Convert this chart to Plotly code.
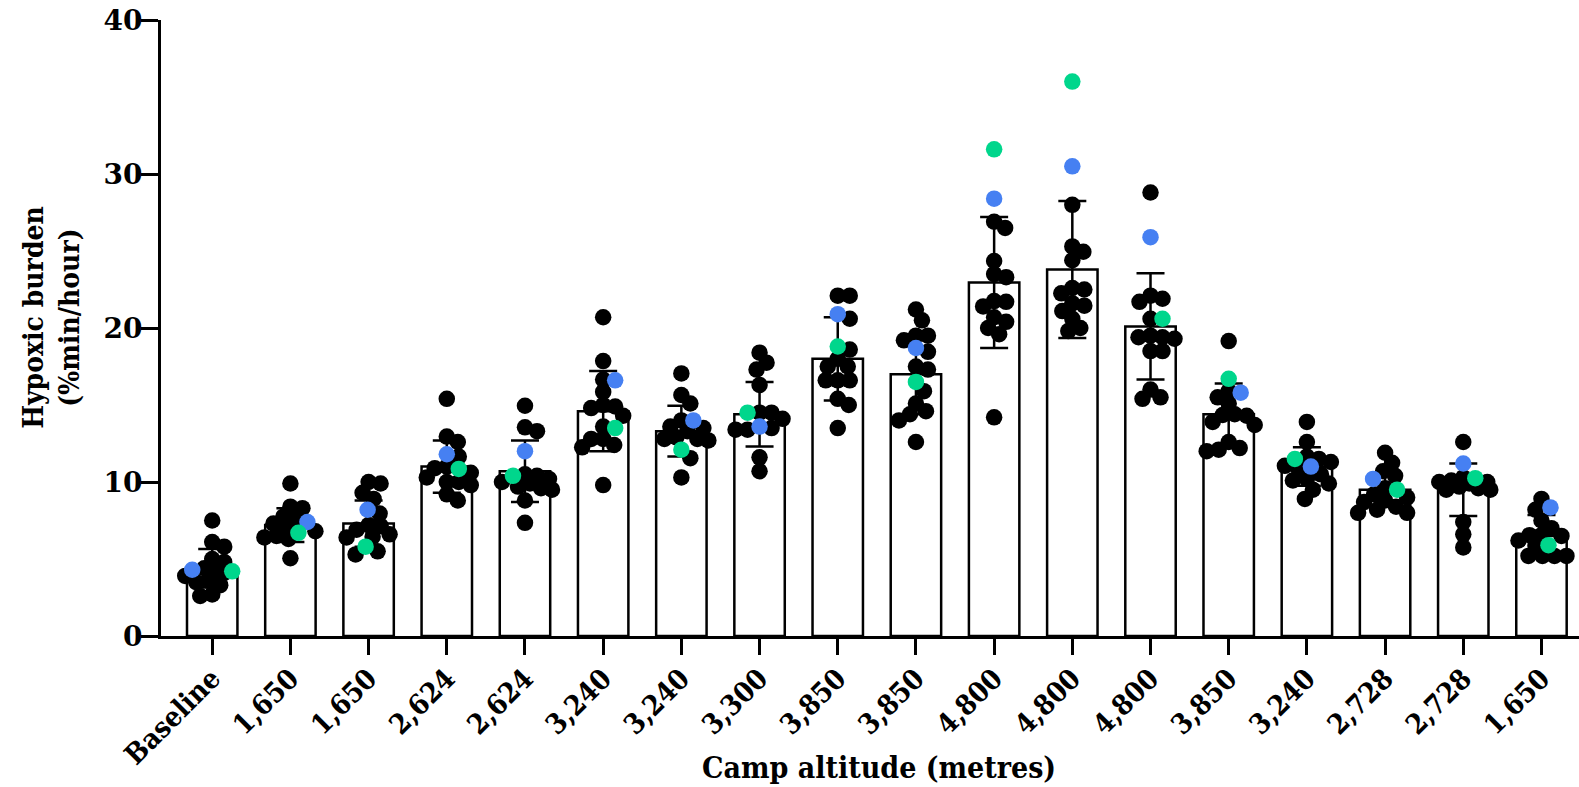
import numpy as np
import plotly.graph_objects as go

# Camp altitudes (x categories)
categories = ["Baseline", "1,650", "1,650", "2,624", "2,624", "3,240", "3,240", "3,300",
              "3,850", "3,850", "4,800", "4,800", "4,800", "3,850", "3,240", "2,728",
              "2,728", "1,650"]

# Group mean and SD of hypoxic burden (%min/hour)
means = [4.4, 7.2, 7.3, 11.0, 10.7, 14.6, 13.3, 14.4, 18.0, 17.0,
         22.95, 23.8, 20.1, 14.4, 11.0, 9.5, 9.5, 6.5]
sds = [1.25, 1.1, 1.5, 1.7, 2.0, 2.6, 1.65, 2.1, 2.7, 2.6,
       4.25, 4.45, 3.45, 2.0, 1.25, 1.1, 1.7, 1.35]

# Individual participants
black_pts = [
    [7.5, 6.1, 5.8, 5.0, 4.8, 4.4, 4.2, 4.1, 3.9, 3.6, 3.5, 3.3, 2.7, 2.6],
    [9.9, 8.4, 8.3, 7.75, 7.5, 7.3, 7.0, 6.8, 6.5, 6.4, 6.3, 5.05],
    [10.0, 9.9, 9.3, 8.9, 7.95, 7.2, 7.15, 6.9, 6.6, 6.45, 6.4, 5.5, 5.3],
    [15.4, 12.95, 12.6, 11.65, 11.0, 10.9, 10.6, 10.3, 10.0, 10.0, 9.8, 9.2, 8.8],
    [14.95, 13.55, 13.3, 10.5, 10.4, 10.2, 10.0, 9.9, 9.7, 9.6, 9.5, 8.8, 7.35],
    [20.7, 17.85, 16.65, 15.85, 15.0, 14.9, 14.8, 14.3, 13.6, 12.8, 12.8, 12.4, 12.25, 9.8],
    [17.05, 15.65, 15.1, 14.0, 13.6, 13.5, 13.3, 12.9, 12.8, 12.8, 12.7, 11.55, 10.3],
    [18.4, 17.75, 17.3, 16.3, 14.5, 14.5, 14.1, 13.5, 13.4, 13.4, 11.6, 10.7],
    [22.1, 22.1, 20.6, 18.6, 18.0, 17.5, 17.5, 16.6, 16.6, 16.6, 15.4, 15.0, 13.5],
    [21.2, 20.5, 19.5, 19.5, 19.2, 18.45, 17.5, 17.3, 15.9, 15.1, 14.6, 14.4, 14.0, 12.6],
    [26.9, 26.5, 24.35, 23.5, 23.3, 21.75, 21.7, 21.4, 20.7, 20.4, 20.0, 19.6, 14.2],
    [28.0, 25.3, 24.95, 24.4, 22.6, 22.5, 22.25, 21.6, 21.45, 21.1, 20.6, 20.0, 19.8],
    [28.8, 22.1, 21.9, 21.7, 20.6, 19.5, 19.4, 19.4, 19.3, 18.5, 18.5, 16.0, 15.5, 15.4],
    [19.15, 15.9, 15.5, 15.1, 14.4, 14.35, 14.3, 13.9, 13.7, 12.6, 12.2, 12.1, 12.0],
    [13.9, 12.6, 11.65, 11.5, 11.3, 11.05, 10.8, 10.5, 10.2, 10.1, 9.9, 9.5, 8.9],
    [11.9, 11.25, 10.7, 10.4, 9.6, 9.2, 9.0, 8.8, 8.7, 8.4, 8.2, 8.0, 8.0],
    [12.6, 10.3, 10.1, 10.0, 10.0, 9.9, 9.7, 9.6, 9.5, 9.5, 7.4, 6.6, 5.75],
    [8.9, 8.2, 7.5, 7.0, 6.55, 6.55, 6.5, 6.2, 5.85, 5.2, 5.2, 5.2, 5.2],
]
blue_pts = [4.3, 7.4, 8.2, 11.8, 12.0, 16.6, 14.0, 13.6, 20.9, 18.7,
            28.4, 30.5, 25.9, 15.8, 11.0, 10.2, 11.2, 8.35]
green_pts = [4.2, 6.7, 5.8, 10.85, 10.4, 13.5, 12.1, 14.5, 18.8, 16.5,
             31.6, 36.0, 20.6, 16.7, 11.5, 9.5, 10.25, 5.9]

BLACK = "#000000"
BLUE = "#4680F2"
GREEN = "#00D68C"

W, H = 1579, 787
M_L, M_R, M_T, M_B = 161, 0, 20, 151
X_RANGE = [-0.655, 17.48]
Y_RANGE = [0, 40]
px_per_cat = (W - M_L - M_R) / (X_RANGE[1] - X_RANGE[0])
px_per_unit = (H - M_T - M_B) / (Y_RANGE[1] - Y_RANGE[0])


def swarm_offsets(vals, min_dist=12.0, max_off=27):
    """Beeswarm layout: horizontal pixel offsets so dots do not pile up."""
    order = sorted(range(len(vals)), key=lambda i: -vals[i])
    placed = []
    offs = [0.0] * len(vals)
    cands = [0]
    for k in range(1, max_off + 1):
        cands += [k, -k]
    for i in order:
        y = vals[i] * px_per_unit
        chosen = None
        best, best_d = 0, -1.0
        for c in cands:
            d = min([np.hypot(c - px, y - py) for px, py in placed] or [1e9])
            if d >= min_dist:
                chosen = c
                break
            if d > best_d:
                best, best_d = c, d
        if chosen is None:
            chosen = best
        placed.append((chosen, y))
        offs[i] = chosen
    return offs


xs = {"k": [], "b": [], "g": []}
ys = {"k": [], "b": [], "g": []}
for gi in range(len(categories)):
    vals = list(black_pts[gi]) + [blue_pts[gi], green_pts[gi]]
    offs = swarm_offsets(vals)
    nk = len(black_pts[gi])
    for j, v in enumerate(vals):
        key = "k" if j < nk else ("b" if j == nk else "g")
        xs[key].append(gi + offs[j] / px_per_cat)
        ys[key].append(v)

x_idx = list(range(len(categories)))

fig = go.Figure()
fig.add_trace(go.Bar(
    x=x_idx, y=means, width=0.645,
    marker=dict(color="white", line=dict(color=BLACK, width=2.5)),
    error_y=dict(type="data", array=sds, visible=True, color=BLACK,
                 thickness=2.5, width=14),
    showlegend=False, hoverinfo="skip",
))
for key, col in (("k", BLACK), ("b", BLUE), ("g", GREEN)):
    fig.add_trace(go.Scatter(
        x=xs[key], y=ys[key], mode="markers",
        marker=dict(color=col, size=16.5, line=dict(width=0)),
        showlegend=False, cliponaxis=False,
    ))

TITLE_FONT = "DejaVu Serif Condensed, DejaVu Serif, serif"
TICK_FONT = "DejaVu Serif, serif"

fig.update_layout(
    width=W, height=H,
    margin=dict(l=M_L, r=M_R, t=M_T, b=M_B),
    plot_bgcolor="white", paper_bgcolor="white",
    xaxis=dict(
        range=X_RANGE, tickmode="array", tickvals=x_idx, ticktext=categories,
        tickangle=-45, showline=True, linecolor=BLACK, linewidth=3,
        ticks="outside", ticklen=16, tickwidth=3, tickcolor=BLACK,
        showgrid=False, zeroline=False, ticklabelstandoff=-4,
        tickfont=dict(family=TITLE_FONT, size=28, color=BLACK, weight="bold"),
    ),
    yaxis=dict(
        range=Y_RANGE, tickmode="array", tickvals=[0, 10, 20, 30, 40],
        showline=True, linecolor=BLACK, linewidth=3,
        ticks="outside", ticklen=17, tickwidth=3, tickcolor=BLACK,
        showgrid=False, zeroline=False, ticklabelstandoff=-7,
        tickfont=dict(family=TICK_FONT, size=28, color=BLACK, weight="bold"),
    ),
    annotations=[
        dict(text="Camp altitude (metres)", xref="paper", yref="paper",
             x=0.506, y=-0.214, xanchor="center", yanchor="middle", showarrow=False,
             font=dict(family=TITLE_FONT, size=30, color=BLACK, weight="bold")),
        dict(text="Hypoxic burden<br>(%min/hour)", xref="paper", yref="paper",
             x=-0.0769, y=0.518, xanchor="center", yanchor="middle", showarrow=False,
             textangle=-90,
             font=dict(family=TITLE_FONT, size=28, color=BLACK, weight="bold")),
    ],
)

fig.write_html("out.html")
